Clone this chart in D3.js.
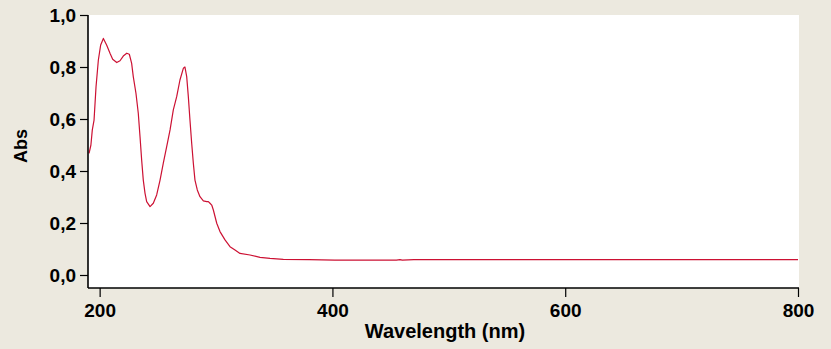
<!DOCTYPE html>
<html>
<head>
<meta charset="utf-8">
<script src="https://cdn.jsdelivr.net/npm/d3@7"></script>
<style>
  html, body { margin: 0; padding: 0; background: #ECE9DF; }
  svg { display: block; }
  .tick text { font-family: "Liberation Sans", Arial, sans-serif; font-weight: bold; font-size: 19px; fill: #000; }
  .title { font-family: "Liberation Sans", Arial, sans-serif; font-weight: bold; fill: #000; }
</style>
</head>
<body>
<svg id="chart" width="831" height="349"></svg>
<script>
// UV-Vis absorption spectrum
const wavelength = [
  190.9, 192.5, 193.7, 195.2, 196.9, 198.9, 200.9, 203.2, 206.0, 208.9,
  211.2, 214.7, 217.5, 220.3, 223.3, 225.5, 227.5, 228.9, 231.2, 233.2,
  234.7, 236.1, 237.5, 239.0, 240.4, 243.3, 246.1, 249.0, 251.9, 254.7,
  257.6, 260.5, 263.3, 266.2, 269.0, 271.9, 273.3, 274.8, 276.2, 277.6,
  279.1, 280.5, 281.9, 283.9, 286.2, 289.1, 292.0, 293.4, 294.8, 296.3,
  297.7, 300.6, 303.4, 307.7, 312.0, 316.3, 320.6, 329.2, 337.8, 346.4,
  357.8, 380.0, 402.0, 430.0, 455.0, 458.0, 460.0, 470.0, 500.0, 550.0,
  600.0, 650.0, 700.0, 750.0, 800.0
];
const absorbance = [
  0.468, 0.500, 0.558, 0.596, 0.724, 0.827, 0.885, 0.910, 0.885, 0.853,
  0.830, 0.817, 0.824, 0.842, 0.853, 0.849, 0.814, 0.763, 0.699, 0.622,
  0.532, 0.442, 0.365, 0.314, 0.282, 0.263, 0.276, 0.308, 0.365, 0.430,
  0.494, 0.558, 0.635, 0.686, 0.750, 0.795, 0.800, 0.763, 0.686, 0.596,
  0.506, 0.430, 0.365, 0.327, 0.301, 0.285, 0.282, 0.282, 0.276, 0.269,
  0.250, 0.199, 0.167, 0.135, 0.109, 0.096, 0.083, 0.077, 0.068, 0.064,
  0.060, 0.059, 0.057, 0.057, 0.057, 0.059, 0.057, 0.059, 0.059, 0.059,
  0.059, 0.059, 0.059, 0.059, 0.059
];
const xTicks = [200, 400, 600, 800];
const yTicks = [0, 0.2, 0.4, 0.6, 0.8, 1.0];

const svg = d3.select("#chart");
const plot = { left: 88, right: 798, top: 15, bottom: 288 };

const x = d3.scaleLinear().domain([190, 800]).range([plot.left, plot.right]);
const y = d3.scaleLinear().domain([-0.05, 1.0]).range([plot.bottom, plot.top]);

// white plotting area
svg.append("rect")
  .attr("x", plot.left).attr("y", plot.top)
  .attr("width", plot.right - plot.left + 1).attr("height", plot.bottom - plot.top)
  .attr("fill", "#fff");

// spectrum trace
const line = d3.line()
  .x((d, i) => x(wavelength[i]))
  .y(d => y(d));
svg.append("path")
  .datum(absorbance)
  .attr("d", line)
  .attr("fill", "none")
  .attr("stroke", "#cc1133")
  .attr("stroke-width", 1.2)
  .attr("stroke-linejoin", "round");

const fmt = d => d3.format(".1f")(d).replace(".", ",");

// y axis
const yAxis = svg.append("g")
  .attr("transform", `translate(${plot.left},0)`)
  .call(d3.axisLeft(y).tickValues(yTicks).tickFormat(fmt).tickSize(8).tickSizeOuter(0).tickPadding(4));

// x axis
const xAxis = svg.append("g")
  .attr("transform", `translate(0,${plot.bottom})`)
  .call(d3.axisBottom(x).tickValues(xTicks).tickFormat(d3.format("d")).tickSize(9).tickSizeOuter(0).tickPadding(7));

[yAxis, xAxis].forEach(g => {
  g.select(".domain").attr("stroke", "#000").attr("stroke-width", 1.6);
  g.selectAll(".tick line").attr("stroke", "#000").attr("stroke-width", 1.2);
});
xAxis.select(".domain").attr("d", `M${plot.left},0H${plot.right + 1}`);
yAxis.select(".domain").attr("d", `M0,${plot.top}V${plot.bottom}`);

// axis titles
svg.append("text")
  .attr("class", "title")
  .attr("x", 445).attr("y", 338)
  .attr("text-anchor", "middle")
  .attr("font-size", 20)
  .text("Wavelength (nm)");

svg.append("text")
  .attr("class", "title")
  .attr("transform", "translate(27,146) rotate(-90)")
  .attr("text-anchor", "middle")
  .attr("font-size", 18)
  .text("Abs");
</script>
</body>
</html>
